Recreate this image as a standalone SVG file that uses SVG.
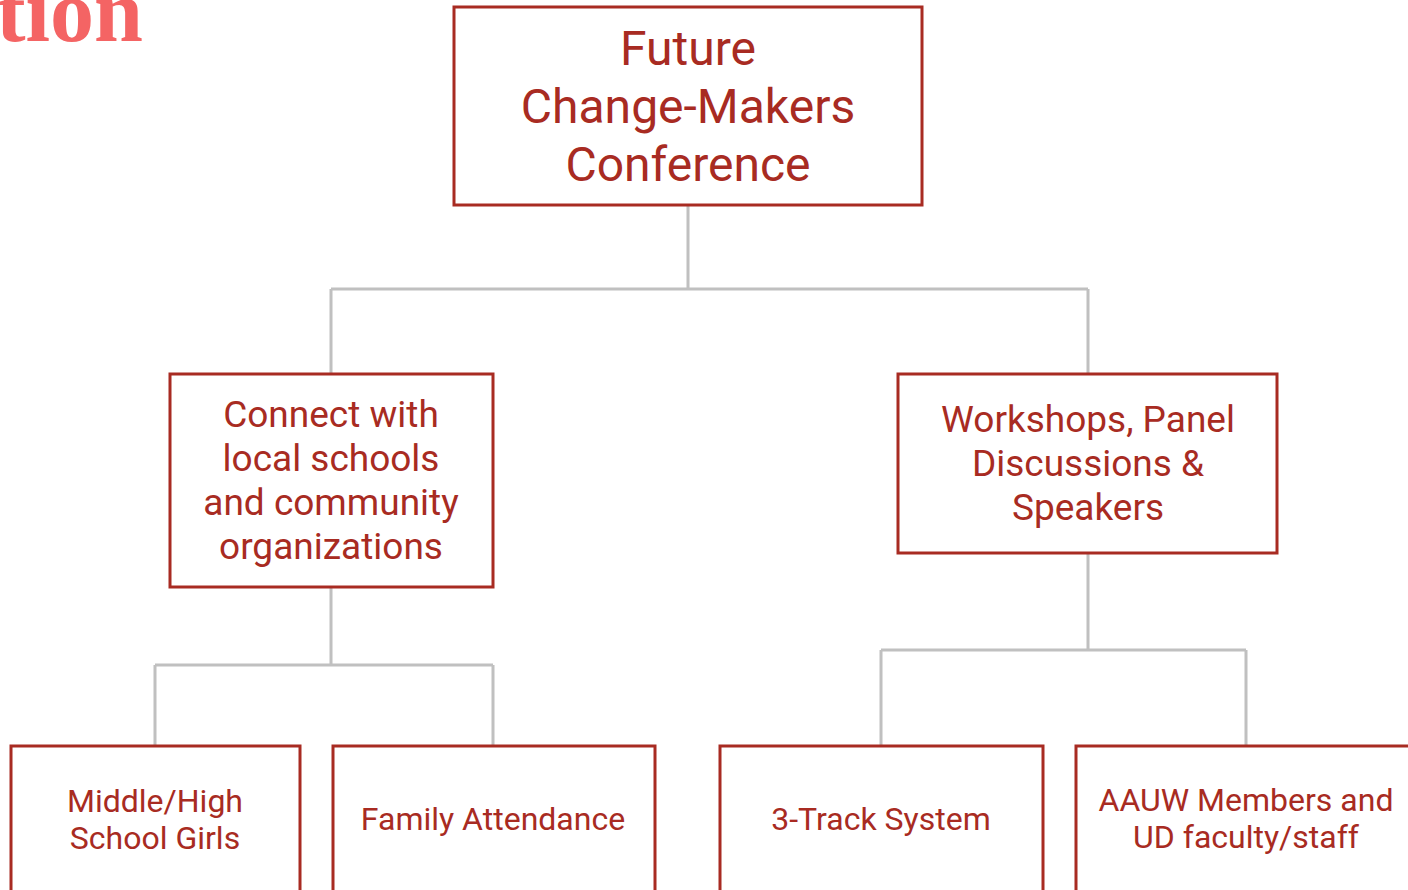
<svg xmlns="http://www.w3.org/2000/svg" width="1408" height="890" viewBox="0 0 1408 890">
<style>
.box{fill:#ffffff;stroke:#a82b22;stroke-width:3}
.t{font-family:Roboto,"Liberation Sans",sans-serif;fill:#a82b22;text-anchor:middle}
.conn{fill:none;stroke:#c0c0c0;stroke-width:3}
.title{font-family:"Liberation Serif",serif;font-weight:bold;fill:#f46464;text-anchor:end}
</style>
<rect width="1408" height="890" fill="#ffffff"/>
<text class="title" x="143" y="41" font-size="88">tion</text>
<g id="connectors">
<path class="conn" d="M688,205 V289 M331,289 H1088 M331,289 V373 M1088,289 V373"/>
<path class="conn" d="M331,587 V665 M155,665 H493 M155,665 V745 M493,665 V745"/>
<path class="conn" d="M1088,553 V650 M881,650 H1246 M881,650 V745 M1246,650 V745"/>
</g>
<g id="root">
<rect class="box" x="454" y="7" width="468" height="198"/>
<text class="t" font-size="48"><tspan x="688" y="65">Future</tspan><tspan x="688" y="123">Change-Makers</tspan><tspan x="688" y="181">Conference</tspan></text>
</g>
<g id="connect">
<rect class="box" x="170" y="374" width="323" height="213"/>
<text class="t" font-size="37"><tspan x="331" y="427">Connect with</tspan><tspan x="331" y="471">local schools</tspan><tspan x="331" y="515">and community</tspan><tspan x="331" y="559">organizations</tspan></text>
</g>
<g id="workshops">
<rect class="box" x="898" y="374" width="379" height="179"/>
<text class="t" font-size="37"><tspan x="1088" y="432">Workshops, Panel</tspan><tspan x="1088" y="476">Discussions &amp;</tspan><tspan x="1088" y="520">Speakers</tspan></text>
</g>
<g id="girls">
<rect class="box" x="11" y="746" width="289" height="160"/>
<text class="t" font-size="32"><tspan x="155" y="812">Middle/High</tspan><tspan x="155" y="849">School Girls</tspan></text>
</g>
<g id="family">
<rect class="box" x="333" y="746" width="322" height="160"/>
<text class="t" font-size="32"><tspan x="493" y="830">Family Attendance</tspan></text>
</g>
<g id="track">
<rect class="box" x="720" y="746" width="323" height="160"/>
<text class="t" font-size="32"><tspan x="881" y="830">3-Track System</tspan></text>
</g>
<g id="aauw">
<rect class="box" x="1076" y="746" width="345" height="160"/>
<text class="t" font-size="32"><tspan x="1246" y="811">AAUW Members and</tspan><tspan x="1246" y="848">UD faculty/staff</tspan></text>
</g>
</svg>
